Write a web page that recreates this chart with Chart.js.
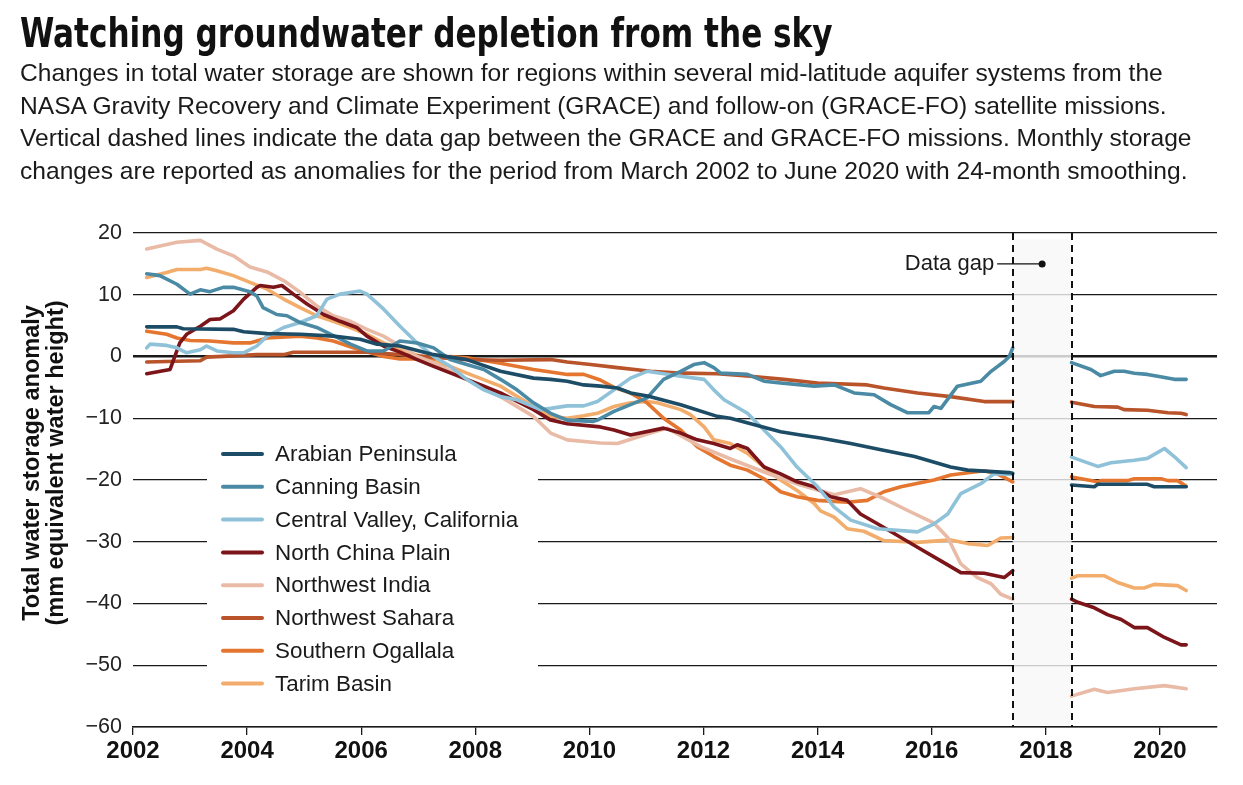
<!DOCTYPE html>
<html>
<head>
<meta charset="utf-8">
<title>Watching groundwater depletion from the sky</title>
<script src="https://cdn.jsdelivr.net/npm/chart.js@4.4.1/dist/chart.umd.min.js"></script>
<style>
  html, body { margin: 0; padding: 0; background: #fff; }
  body { width: 1243px; height: 785px; position: relative; overflow: hidden;
         font-family: "Liberation Sans", Arial, sans-serif; color: #1a1a1a; }
  #chartBox { position: absolute; left: 0; top: 0; width: 1243px; height: 785px; }
  #title { position: absolute; left: 20px; top: 11px; z-index: 2;
           font-family: "Liberation Sans Narrow", "DejaVu Sans Condensed", sans-serif;
           font-weight: bold; font-size: 40px; line-height: 1.117; white-space: nowrap; color: #111;
           transform: scaleX(0.865); transform-origin: left top; }
  #subtitle { position: absolute; left: 20px; top: 57px; z-index: 2;
              font-size: 24.6px; line-height: 32.7px; white-space: nowrap; color: #1a1a1a; }
</style>
</head>
<body>
<div id="chartBox"><canvas id="polarChart" width="1243" height="785"></canvas></div>
<div id="title">Watching groundwater depletion from the sky</div>
<div id="subtitle">Changes in total water storage are shown for regions within several mid-latitude aquifer systems from the<br>NASA Gravity Recovery and Climate Experiment (GRACE) and follow-on (GRACE-FO) satellite missions.<br>Vertical dashed lines indicate the data gap between the GRACE and GRACE-FO missions. Monthly storage<br>changes are reported as anomalies for the period from March 2002 to June 2020 with 24-month smoothing.</div>
<script>
// series names + colours (legend order)
const seriesNames = ['Arabian Peninsula', 'Canning Basin', 'Central Valley, California', 'North China Plain',
    'Northwest India', 'Northwest Sahara', 'Southern Ogallala', 'Tarim Basin'];
const seriesColors = ['#1d4d66', '#4a8aa5', '#8fc2d9', '#7c1519', '#e9bba6', '#b9532a', '#e5762f', '#f2ad6c'];

// [year, mm]
const arabianPeninsula = [[2002.24,4.8],[2002.77,4.8],[2002.88,4.5],[2003.76,4.4],[2003.94,4.0],[2004.35,3.7],
    [2004.93,3.6],[2005.51,3.3],[2005.98,2.8],[2006.28,2.0],[2006.68,1.7],[2007.27,0.3],[2007.85,-0.5],[2008.44,-2.4],
    [2009.02,-3.5],[2009.32,-3.7],[2009.61,-4.0],[2009.9,-4.6],[2010.19,-4.8],[2010.49,-5.1],[2010.72,-5.9],
    [2011.07,-6.5],[2011.6,-7.8],[2012.24,-9.7],[2012.47,-10.0],[2013.35,-12.2],[2013.7,-12.7],[2014.05,-13.2],
    [2014.58,-14.1],[2015.11,-15.1],[2015.7,-16.2],[2016.0,-17.0],[2016.33,-17.9],[2016.63,-18.4],[2017.36,-18.8],
    [2017.42,-18.9],
    [2018.45,-20.8],[2018.85,-21.1],[2018.91,-20.7],[2019.78,-20.7],[2019.9,-21.1],[2020.46,-21.1]];
const canningBasin = [[2002.24,13.4],[2002.47,13.1],[2002.77,11.7],[2003.0,10.1],[2003.18,10.8],[2003.35,10.5],
    [2003.58,11.2],[2003.76,11.2],[2004.05,10.5],[2004.17,9.8],[2004.28,7.9],[2004.52,6.8],[2004.7,6.6],[2004.93,5.5],
    [2005.22,4.7],[2005.51,3.4],[2005.81,2.0],[2006.1,0.9],[2006.39,0.9],[2006.68,2.5],[2006.98,2.2],[2007.27,1.4],
    [2007.56,-0.5],[2007.85,-1.3],[2008.15,-2.1],[2008.44,-3.7],[2008.73,-5.4],[2009.02,-7.5],[2009.32,-9.2],
    [2009.61,-10.3],[2010.07,-10.5],[2010.14,-10.3],[2010.43,-8.9],[2011.01,-6.7],[2011.3,-3.7],[2011.6,-2.4],
    [2011.83,-1.3],[2012.01,-1.0],[2012.18,-1.8],[2012.3,-2.7],[2012.77,-2.9],[2013.06,-4.0],[2013.35,-4.3],
    [2013.94,-4.8],[2014.29,-4.6],[2014.64,-5.9],[2014.99,-6.2],[2015.28,-7.8],[2015.57,-9.1],[2015.95,-9.1],
    [2016.04,-8.1],[2016.16,-8.4],[2016.45,-4.8],[2016.86,-4.0],[2017.04,-2.4],[2017.27,-0.8],[2017.36,0.0],
    [2017.42,1.4],
    [2018.45,-1.0],[2018.79,-2.1],[2018.96,-3.1],[2019.2,-2.4],[2019.37,-2.4],[2019.55,-2.7],[2019.78,-2.9],
    [2019.96,-3.2],[2020.25,-3.7],[2020.46,-3.7]];
const centralValley = [[2002.24,1.4],[2002.3,2.0],[2002.59,1.8],[2002.77,1.4],[2002.94,0.6],[2003.18,1.1],
    [2003.29,1.7],[2003.47,0.9],[2003.76,0.6],[2003.94,0.6],[2004.17,1.7],[2004.35,3.3],[2004.64,4.7],[2004.93,5.5],
    [2005.22,6.6],[2005.4,9.3],[2005.63,10.1],[2005.98,10.6],[2006.1,10.1],[2006.39,7.7],[2006.68,4.9],[2006.98,2.2],
    [2007.27,0.0],[2007.56,-1.6],[2007.85,-3.7],[2008.15,-5.4],[2008.44,-6.5],[2008.73,-7.0],[2009.14,-8.6],
    [2009.32,-8.4],[2009.61,-8.0],[2009.9,-8.0],[2010.14,-7.3],[2010.43,-5.4],[2010.72,-3.5],[2011.01,-2.4],
    [2011.6,-3.2],[2012.01,-3.7],[2012.18,-5.4],[2012.36,-7.0],[2012.77,-9.2],[2013.35,-14.6],[2013.64,-17.9],
    [2014.0,-21.1],[2014.29,-24.4],[2014.58,-26.5],[2015.05,-27.9],[2015.75,-28.4],[2016.04,-27.1],[2016.28,-25.5],
    [2016.51,-22.2],[2016.86,-20.6],[2017.09,-19.0],[2017.42,-19.1],
    [2018.45,-16.3],[2018.91,-17.8],[2019.14,-17.2],[2019.55,-16.8],[2019.78,-16.5],[2020.08,-14.9],[2020.25,-16.2],
    [2020.46,-18.0]];
const northChinaPlain = [[2002.24,-2.8],[2002.65,-2.1],[2002.82,2.2],[2002.94,3.6],[2003.18,4.9],[2003.35,6.0],
    [2003.53,6.1],[2003.76,7.4],[2003.94,9.3],[2004.17,11.2],[2004.23,11.5],[2004.46,11.2],[2004.61,11.5],
    [2004.81,10.1],[2005.05,8.5],[2005.34,6.8],[2005.63,5.7],[2005.92,4.7],[2006.1,3.3],[2006.39,1.7],[2006.68,0.7],
    [2006.98,-0.5],[2007.27,-1.6],[2007.85,-3.7],[2008.15,-4.8],[2008.44,-5.9],[2009.02,-8.6],[2009.32,-10.3],
    [2009.61,-10.9],[2010.19,-11.4],[2010.43,-11.9],[2010.72,-12.7],[2011.3,-11.6],[2011.6,-12.4],[2011.89,-13.5],
    [2012.18,-14.1],[2012.47,-14.9],[2012.59,-14.3],[2012.77,-14.9],[2013.06,-17.9],[2013.35,-19.0],[2013.64,-20.3],
    [2013.94,-21.1],[2014.23,-22.7],[2014.52,-23.3],[2014.75,-25.5],[2015.11,-27.4],[2015.75,-30.9],[2016.16,-33.1],
    [2016.51,-35.0],[2016.92,-35.1],[2017.27,-35.8],[2017.42,-34.7],
    [2018.45,-39.3],[2018.56,-39.8],[2018.85,-40.7],[2019.08,-41.8],[2019.32,-42.6],[2019.55,-43.9],[2019.78,-43.9],
    [2020.08,-45.5],[2020.37,-46.7],[2020.46,-46.7]];
const northwestIndia = [[2002.24,17.4],[2002.77,18.5],[2003.18,18.8],[2003.47,17.4],[2003.76,16.3],[2004.05,14.5],
    [2004.35,13.7],[2004.64,12.3],[2004.93,10.4],[2005.22,8.2],[2005.51,6.6],[2005.81,5.7],[2006.1,4.4],[2006.39,3.3],
    [2006.68,1.7],[2006.98,0.0],[2007.27,-1.0],[2007.85,-3.7],[2008.44,-6.5],[2009.02,-9.7],[2009.32,-12.4],
    [2009.61,-13.5],[2010.19,-14.0],[2010.49,-14.1],[2011.07,-12.4],[2011.36,-11.6],[2011.95,-14.6],[2012.53,-16.8],
    [2013.12,-18.9],[2013.7,-20.8],[2014.29,-22.4],[2014.75,-21.4],[2015.16,-23.0],[2015.57,-24.9],[2016.04,-27.0],
    [2016.28,-29.3],[2016.51,-33.6],[2016.8,-35.8],[2017.04,-36.8],[2017.21,-38.5],[2017.42,-39.3],
    [2018.45,-55.0],[2018.85,-53.9],[2019.08,-54.4],[2019.55,-53.8],[2020.08,-53.3],[2020.46,-53.8]];
const northwestSahara = [[2002.24,-0.9],[2002.59,-0.8],[2003.18,-0.7],[2003.29,-0.1],[2003.76,0.1],[2004.17,0.3],
    [2004.64,0.3],[2004.81,0.7],[2005.51,0.7],[2006.1,0.7],[2006.68,0.3],[2007.27,-0.1],[2007.85,-0.5],[2008.44,-0.6],
    [2009.32,-0.5],[2009.61,-0.9],[2010.02,-1.3],[2010.49,-1.8],[2011.07,-2.4],[2011.65,-2.7],[2012.24,-2.8],
    [2012.82,-3.2],[2013.41,-3.7],[2014.0,-4.3],[2014.87,-4.6],[2015.16,-5.1],[2015.75,-5.9],[2016.33,-6.5],
    [2016.92,-7.3],[2017.42,-7.3],
    [2018.45,-7.4],[2018.85,-8.1],[2019.26,-8.2],[2019.37,-8.6],[2019.78,-8.7],[2020.14,-9.1],[2020.37,-9.2],
    [2020.46,-9.4]];
const southernOgallala = [[2002.24,4.1],[2002.59,3.6],[2002.77,3.0],[2003.0,2.6],[2003.35,2.5],[2003.76,2.2],
    [2004.05,2.2],[2004.35,3.0],[2004.93,3.3],[2005.22,3.0],[2005.51,2.5],[2005.86,1.4],[2006.39,0.0],[2006.68,-0.4],
    [2007.27,-0.4],[2007.56,0.0],[2007.85,-0.2],[2008.44,-1.1],[2009.02,-2.1],[2009.32,-2.5],[2009.61,-2.9],
    [2009.9,-2.9],[2010.19,-3.8],[2010.43,-5.0],[2010.72,-5.9],[2011.01,-7.5],[2011.3,-10.0],[2011.6,-11.9],
    [2011.89,-14.6],[2012.18,-16.2],[2012.47,-17.6],[2012.77,-18.4],[2013.06,-19.8],[2013.35,-21.9],[2013.64,-22.7],
    [2014.0,-23.3],[2014.52,-23.6],[2014.87,-23.3],[2015.16,-21.9],[2015.46,-21.1],[2016.04,-20.0],[2016.33,-19.2],
    [2016.92,-18.5],[2017.15,-19.0],[2017.42,-20.3],
    [2018.45,-19.5],[2018.91,-20.3],[2018.96,-20.1],[2019.43,-20.1],[2019.55,-19.8],[2020.02,-19.8],[2020.14,-20.1],
    [2020.31,-20.1],[2020.46,-21.0]];
const tarimBasin = [[2002.24,12.8],[2002.59,13.6],[2002.77,14.1],[2003.18,14.1],[2003.29,14.3],[2003.47,13.9],
    [2003.76,13.1],[2004.05,12.0],[2004.35,10.9],[2004.64,9.3],[2004.93,7.9],[2005.22,6.6],[2005.51,5.7],[2005.81,4.7],
    [2006.1,3.6],[2006.39,2.2],[2006.68,1.2],[2006.98,0.2],[2007.27,-0.8],[2007.56,-1.6],[2007.85,-2.7],[2008.44,-4.8],
    [2009.02,-8.1],[2009.32,-9.7],[2009.61,-10.0],[2009.9,-9.6],[2010.14,-9.2],[2010.43,-8.1],[2010.72,-7.5],
    [2011.01,-7.3],[2011.19,-7.5],[2011.6,-8.6],[2011.77,-9.4],[2012.01,-11.4],[2012.18,-13.5],[2012.47,-14.1],
    [2012.77,-15.7],[2013.06,-17.9],[2013.35,-20.0],[2013.64,-21.7],[2013.94,-23.8],[2014.05,-25.0],[2014.29,-26.0],
    [2014.52,-27.9],[2014.81,-28.3],[2015.16,-29.8],[2015.75,-30.1],[2016.33,-29.7],[2016.63,-30.3],[2016.98,-30.6],
    [2017.21,-29.4],[2017.42,-29.3],
    [2018.45,-35.9],[2018.56,-35.5],[2019.02,-35.5],[2019.26,-36.6],[2019.55,-37.5],[2019.72,-37.5],[2019.9,-36.9],
    [2020.31,-37.1],[2020.46,-37.9]];

const seriesData = [arabianPeninsula, canningBasin, centralValley, northChinaPlain,
    northwestIndia, northwestSahara, southernOgallala, tarimBasin];

// GRACE -> GRACE-FO gap (decimal years)
const gapStart = 2017.42;
const gapEnd = 2018.45;

const xMin = 2002, xMax = 2021, xStep = 2;
const yMin = -60, yMax = 20, yStep = 10;

const FONT = '"Liberation Sans", Arial, sans-serif';

// turn [year, value] rows into points, breaking the line over the gap
function toPoints(rows) {
    const pts = [];
    rows.forEach((r, i) => {
        if (i > 0 && rows[i - 1][0] <= gapStart && r[0] >= gapEnd) {
            pts.push({ x: (gapStart + gapEnd) / 2, y: null });
        }
        pts.push({ x: r[0], y: r[1] });
    });
    return pts;
}

const datasets = seriesData.map((rows, i) => ({
    label: seriesNames[i],
    data: toPoints(rows),
    borderColor: seriesColors[i],
    backgroundColor: seriesColors[i],
    borderWidth: 3.6,
    borderJoinStyle: 'round',
    borderCapStyle: 'round',
    pointRadius: 0,
    tension: 0,
    spanGaps: false
}));

function fmtNum(v) {
    return v < 0 ? '\u2212' + Math.abs(v) : String(v);
}

// gap shading, dashed lines, "Data gap" callout, legend, y title
const decor = {
    id: 'decor',
    beforeDatasetsDraw(chart) {
        const { ctx, chartArea, scales: { x, y } } = chart;
        const x0 = x.getPixelForValue(gapStart);
        const x1 = x.getPixelForValue(gapEnd);
        const top = y.getPixelForValue(19);
        ctx.save();
        ctx.fillStyle = 'rgba(248,248,248,0.8)';
        ctx.fillRect(x0, top, x1 - x0, chartArea.bottom - 1.5 - top);
        ctx.restore();
    },
    afterDatasetsDraw(chart) {
        const { ctx, chartArea, scales: { x, y } } = chart;

        // dashed gap lines
        ctx.save();
        ctx.strokeStyle = '#111';
        ctx.lineWidth = 2;
        ctx.setLineDash([7, 5]);
        [gapStart, gapEnd].forEach(v => {
            const px = Math.round(x.getPixelForValue(v));
            ctx.beginPath();
            ctx.moveTo(px, chartArea.top);
            ctx.lineTo(px, chartArea.bottom);
            ctx.stroke();
        });
        ctx.restore();

        // "Data gap" callout
        const dotX = x.getPixelForValue((gapStart + gapEnd) / 2);
        const dotY = y.getPixelForValue(15);
        ctx.save();
        ctx.strokeStyle = '#111';
        ctx.fillStyle = '#111';
        ctx.lineWidth = 1.3;
        ctx.beginPath();
        ctx.moveTo(dotX - 45, dotY);
        ctx.lineTo(dotX, dotY);
        ctx.stroke();
        ctx.beginPath();
        ctx.arc(dotX, dotY, 3.5, 0, Math.PI * 2);
        ctx.fill();
        ctx.font = '22px ' + FONT;
        ctx.textAlign = 'right';
        ctx.textBaseline = 'middle';
        ctx.fillStyle = '#1a1a1a';
        ctx.fillText('Data gap', dotX - 48, dotY);
        ctx.restore();

        // legend box
        const lx = 207, ly = 434, lw = 331, lh = 270;
        const rowH = 32.8, firstRow = 454;
        ctx.save();
        ctx.fillStyle = '#fff';
        ctx.fillRect(lx, ly, lw, lh);
        ctx.font = '22.4px ' + FONT;
        ctx.textAlign = 'left';
        ctx.textBaseline = 'middle';
        seriesNames.forEach((name, i) => {
            const ry = firstRow + i * rowH;
            ctx.strokeStyle = seriesColors[i];
            ctx.lineWidth = 4;
            ctx.lineCap = 'round';
            ctx.beginPath();
            ctx.moveTo(223, ry);
            ctx.lineTo(262, ry);
            ctx.stroke();
            ctx.fillStyle = '#1a1a1a';
            ctx.fillText(name, 275, ry + 1);
        });
        ctx.restore();
    },
    afterDraw(chart) {
        const { ctx } = chart;
        ctx.save();
        ctx.translate(33, 463);
        ctx.rotate(-Math.PI / 2);
        ctx.font = 'bold 23.5px ' + FONT;
        ctx.fillStyle = '#111';
        ctx.textAlign = 'center';
        ctx.textBaseline = 'middle';
        ctx.fillText('Total water storage anomaly', 0, 0);
        ctx.fillText('(mm equivalent water height)', 0, 24);
        ctx.restore();
    }
};

new Chart(document.getElementById('polarChart').getContext('2d'), {
    type: 'line',
    data: { datasets: datasets },
    options: {
        responsive: false,
        animation: false,
        devicePixelRatio: 1,
        layout: { padding: { top: 233, right: 26, bottom: 0, left: 0 } },
        plugins: { legend: { display: false }, tooltip: { enabled: false }, title: { display: false } },
        scales: {
            x: {
                type: 'linear',
                min: xMin,
                max: xMax,
                afterFit: s => { s.height = 58; },
                border: { display: true, color: '#1a1a1a', width: 1.5 },
                grid: { drawOnChartArea: false, drawTicks: true, tickLength: 8, color: '#1a1a1a', lineWidth: 1.3 },
                ticks: {
                    stepSize: xStep,
                    includeBounds: false,
                    autoSkip: false,
                    maxRotation: 0,
                    padding: 2,
                    color: '#111',
                    font: { family: FONT, size: 24, weight: 'bold' },
                    callback: v => String(v)
                }
            },
            y: {
                min: yMin,
                max: yMax,
                afterFit: s => { s.width = 133; },
                border: { display: false },
                grid: {
                    drawTicks: false,
                    color: '#1a1a1a',
                    lineWidth: c => (c.tick && c.tick.value === 0 ? 2.6 : 1.2)
                },
                ticks: {
                    stepSize: yStep,
                    padding: 11,
                    color: '#222',
                    font: { family: FONT, size: 21.5 },
                    callback: v => fmtNum(v)
                }
            }
        }
    },
    plugins: [decor]
});
</script>
</body>
</html>
